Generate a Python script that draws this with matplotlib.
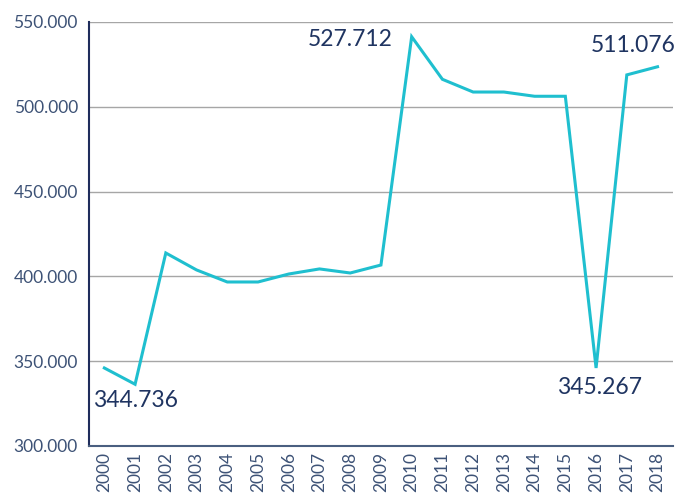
import matplotlib
matplotlib.use("Agg")
import matplotlib.pyplot as plt

years = [str(y) for y in range(2000, 2019)]
values = [346.0, 336.4, 413.8, 403.8, 396.7, 396.7, 401.4, 404.4, 402.0, 406.7,
          541.3, 516.2, 508.7, 508.7, 506.2, 506.2, 346.0, 518.8, 523.6]
yticks = [300, 350, 400, 450, 500, 550]
ytick_labels = ["300.000", "350.000", "400.000", "450.000", "500.000", "550.000"]
annotations = [("344.736", 0), ("527.712", 10), ("345.267", 16), ("511.076", 18)]

plt.rcParams['font.family'] = ['Lato', 'DejaVu Sans']

fig = plt.figure(figsize=(6.93, 4.95), dpi=100)
ax = fig.add_axes([0.1284, 0.099, 0.8426, 0.8566])

x = list(range(len(years)))
ax.plot(x, values, color='#1fbfcf', lw=2.2, solid_joinstyle='miter')

ax.set_xlim(-0.5, len(years) - 0.5)
ax.set_ylim(300, 550)
ax.set_yticks(yticks)
ax.set_yticklabels(ytick_labels)
ax.set_xticks(x)
ax.set_xticklabels(years, rotation=90)

ax.grid(axis='y', color='#a6a6a6', lw=1)
ax.set_axisbelow(True)
for s in ['top', 'right']:
    ax.spines[s].set_visible(False)
ax.spines['left'].set_color('#1f2d5c')
ax.spines['left'].set_linewidth(1.5)
ax.spines['bottom'].set_color('#4a5f80')
ax.spines['bottom'].set_linewidth(1.5)
ax.tick_params(axis='y', length=0, pad=8, labelsize=12.5, labelcolor='#3d5276')
ax.tick_params(axis='x', length=0, pad=4, labelsize=12.5, labelcolor='#3d5276')

navy = '#1f3461'
# label placement
ax.text(-0.38, 327.1, annotations[0][0], ha='left', va='center', fontsize=16.5, color=navy)
ax.text(9.37, 539.4, annotations[1][0], ha='right', va='center', fontsize=16.5, color=navy)
ax.text(16.1, 334.2, annotations[2][0], ha='center', va='center', fontsize=16.5, color=navy)
ax.text(18.6, 536.0, annotations[3][0], ha='right', va='center', fontsize=16.5, color=navy)

fig.savefig("out.png", dpi=100)
